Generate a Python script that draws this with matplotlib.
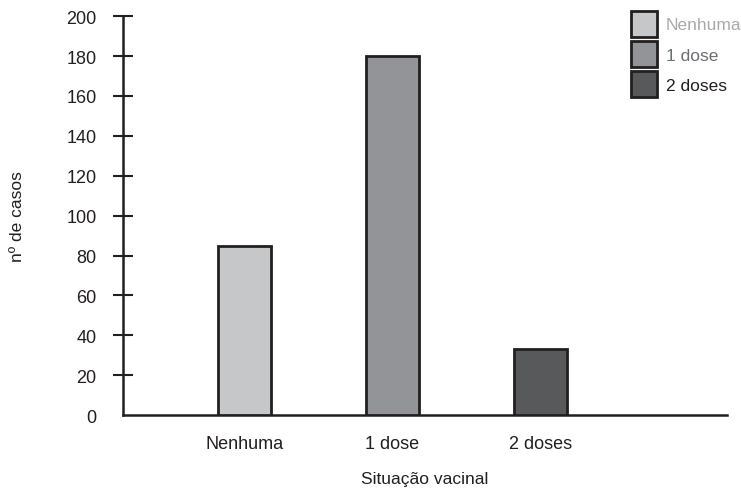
import matplotlib
matplotlib.use("Agg")
import matplotlib.pyplot as plt
from matplotlib import font_manager

categories = ["Nenhuma", "1 dose", "2 doses"]
values = [85, 180, 33]
yticks = [0, 20, 40, 60, 80, 100, 120, 140, 160, 180, 200]

names = {f.name for f in font_manager.fontManager.ttflist}
fam = "Liberation Sans Narrow" if "Liberation Sans Narrow" in names else "Liberation Sans"
plt.rcParams["font.family"] = [fam, "DejaVu Sans"]

colors = ["#c6c7c9", "#939498", "#58595b"]
text_colors = ["#a8a9ab", "#6d6e71", "#231f20"]
edge = "#231f20"

fig = plt.figure(figsize=(7.41, 4.89), dpi=100)
ax = fig.add_axes([0.166, 0.149, 0.815, 0.816])

positions = [1.0, 2.0, 3.0]
for p, v, c, lab in zip(positions, values, colors, categories):
    ax.bar(p, v, width=0.36, color=c, edgecolor=edge, linewidth=2, label=lab, zorder=3)

ax.set_xlim(0.18, 4.26)
ax.set_ylim(0, 200)
ax.set_yticks(yticks)
ax.set_xticks(positions)
ax.set_xticklabels(categories)

for s in ["top", "right"]:
    ax.spines[s].set_visible(False)
for s in ["left", "bottom"]:
    ax.spines[s].set_linewidth(1.8)
    ax.spines[s].set_color(edge)
ax.tick_params(axis="y", direction="inout", length=14, width=1.5, color=edge, pad=12, labelsize=13, labelcolor=edge)
ax.tick_params(axis="x", length=0, pad=14, labelsize=13, labelcolor=edge)
ax.yaxis.get_major_ticks()[0].tick1line.set_visible(False)

ax.set_ylabel("nº de casos", fontsize=12.5, color=edge, labelpad=30)
ax.set_xlabel("Situação vacinal", fontsize=12.5, color=edge, labelpad=14)

leg = ax.legend(loc="upper left", bbox_to_anchor=(0.83, 1.03), frameon=False,
                fontsize=12.5, handlelength=1.5, handleheight=1.9,
                labelspacing=0.25, handletextpad=0.5, borderaxespad=0)
for t, c in zip(leg.get_texts(), text_colors):
    t.set_color(c)

fig.savefig("out.png", dpi=100)
